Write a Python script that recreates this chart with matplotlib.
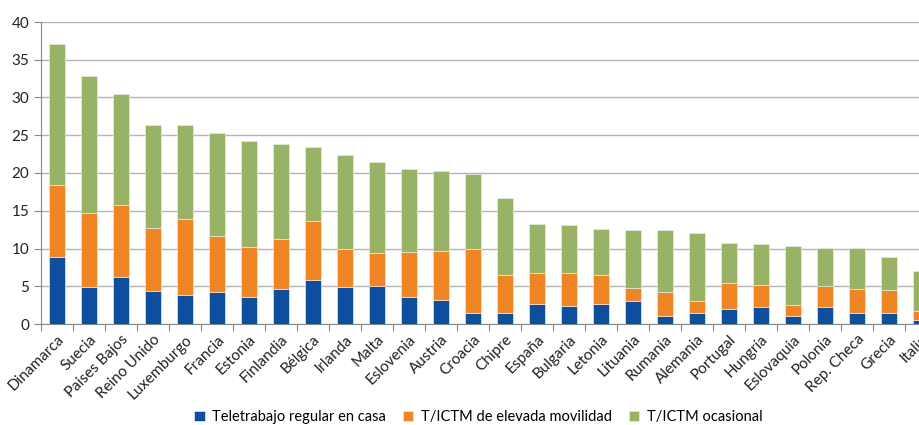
import numpy as np
import matplotlib
matplotlib.use('Agg')
import matplotlib.pyplot as plt

plt.rcParams['font.family'] = ['Lato', 'DejaVu Sans']

# Datos por país
paises = ['Dinamarca', 'Suecia', 'Paises Bajos', 'Reino Unido', 'Luxemburgo', 'Francia',
          'Estonia', 'Finlandia', 'Bélgica', 'Irlanda', 'Malta', 'Eslovenia', 'Austria',
          'Croacia', 'Chipre', 'España', 'Bulgaria', 'Letonia', 'Lituania', 'Rumania',
          'Alemania', 'Portugal', 'Hungría', 'Eslovaquia', 'Polonia', 'Rep. Checa',
          'Grecia', 'Italia']

regular = [8.9, 4.9, 6.2, 4.4, 3.8, 4.3, 3.6, 4.7, 5.8, 4.9, 5.0, 3.6, 3.2, 1.5,
           1.5, 2.6, 2.4, 2.6, 3.0, 1.0, 1.4, 2.0, 2.2, 1.0, 2.2, 1.4, 1.5, 0.5]
movilidad = [9.5, 9.8, 9.5, 8.3, 10.1, 7.4, 6.6, 6.6, 7.8, 5.1, 4.4, 6.0, 6.5, 8.4,
             5.0, 4.2, 4.3, 3.9, 1.8, 3.3, 1.6, 3.4, 2.9, 1.5, 2.8, 3.3, 3.0, 1.2]
ocasional = [18.7, 18.2, 14.7, 13.7, 12.4, 13.6, 14.0, 12.6, 9.9, 12.4, 12.1, 10.9,
             10.6, 10.0, 10.2, 6.5, 6.4, 6.1, 7.6, 8.1, 9.0, 5.3, 5.5, 7.8, 5.1, 5.3,
             4.4, 5.3]

azul = '#0D4F9E'
naranja = '#F08526'
verde = '#98B266'

x = np.arange(len(paises))
fig = plt.figure(figsize=(9.2, 4.25), dpi=100)
ax = fig.add_axes([41/920, 101/425, 896/920, 302/425])

b1 = np.array(regular)
b2 = b1 + np.array(movilidad)
ax.bar(x, regular, 0.5, color=azul, edgecolor='#E4ECF4', linewidth=0.5,
       label='Teletrabajo regular en casa', zorder=3)
ax.bar(x, movilidad, 0.5, bottom=b1, color=naranja, edgecolor='#FBE3CC', linewidth=0.5,
       label='T/ICTM de elevada movilidad', zorder=3)
ax.bar(x, ocasional, 0.5, bottom=b2, color=verde, edgecolor='#E6EEDC', linewidth=0.5,
       label='T/ICTM ocasional', zorder=3)

ax.set_xlim(-0.5, len(paises) - 0.5)
ax.set_ylim(0, 40)
ax.set_yticks(range(0, 41, 5))
ax.yaxis.grid(True, color='#B4B4B4', linewidth=1.0, zorder=0)
ax.set_axisbelow(True)

# ticks mayores entre categorías, etiquetas en los menores
ax.set_xticks(x - 0.5, minor=False)
ax.set_xticklabels([])
ax.set_xticks(x, minor=True)
ax.set_xticklabels(paises, minor=True, rotation=45, ha='right',
                   rotation_mode='anchor', fontsize=11, color='#222222')
ax.tick_params(axis='x', which='major', length=5, color='#888888')
ax.tick_params(axis='x', which='minor', length=0, pad=6)
ax.tick_params(axis='y', length=5, color='#888888', labelsize=11, labelcolor='#222222')

for s in ['top', 'right']:
    ax.spines[s].set_visible(False)
ax.spines['left'].set_color('#888888')
ax.spines['bottom'].set_color('#888888')

fig.legend(loc='lower center', bbox_to_anchor=(0.52, -0.028), ncol=3, frameon=False,
           handlelength=0.7, handleheight=0.7, fontsize=10.5, columnspacing=1.2,
           handletextpad=0.5)

plt.savefig('out.png', dpi=100)
